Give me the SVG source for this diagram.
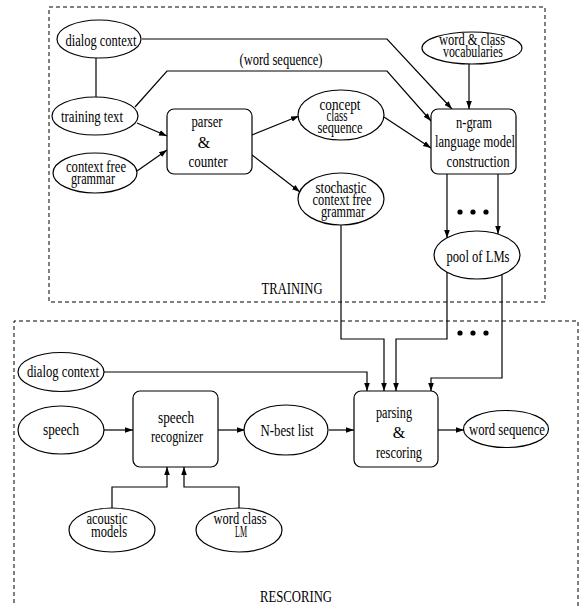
<svg xmlns="http://www.w3.org/2000/svg" width="579" height="606" viewBox="0 0 579 606">
<style>
text{font-family:"Liberation Serif","Times New Roman",serif;font-size:16px;fill:#000;text-anchor:middle}
.sec{font-size:17px}
.n{fill:#fff;stroke:#000;stroke-width:1.2}
.c{fill:none;stroke:#000;stroke-width:1.2}
.frame{fill:none;stroke:#000;stroke-width:1;stroke-dasharray:4,3}
.dot{fill:#000}
</style>
<defs>
<marker id="ah" viewBox="0 0 10 10" refX="10" refY="5" markerWidth="8" markerHeight="8" markerUnits="userSpaceOnUse" orient="auto">
<path d="M0,1.5 L10,5 L0,8.5 Z" fill="#000"/>
</marker>
</defs>
<rect width="579" height="606" fill="#fff"/>
<g id="frames">
<rect class="frame" x="49" y="7" width="496" height="295"/>
<path class="frame" d="M14,610 V321 H578 V610"/>
<text class="sec" x="292" y="294" textLength="61" lengthAdjust="spacingAndGlyphs">TRAINING</text>
<text class="sec" x="296" y="602" textLength="72" lengthAdjust="spacingAndGlyphs">RESCORING</text>
</g>
<g id="connectors">
<path class="c" d="M142,39 H387 L452,109" marker-end="url(#ah)"/>
<path class="c" d="M96,58 V97"/>
<path class="c" d="M135,107 L167,71 H387 L431,121" marker-end="url(#ah)"/>
<text x="281" y="65" textLength="83" lengthAdjust="spacingAndGlyphs">(word sequence)</text>
<path class="c" d="M137,123 L167,136" marker-end="url(#ah)"/>
<path class="c" d="M137,171 L167,150" marker-end="url(#ah)"/>
<path class="c" d="M252,135 L299,116" marker-end="url(#ah)"/>
<path class="c" d="M384,117 L431,148" marker-end="url(#ah)"/>
<path class="c" d="M252,155 L300,192" marker-end="url(#ah)"/>
<path class="c" d="M469,64 V109" marker-end="url(#ah)"/>
<path class="c" d="M447,174 V238" marker-end="url(#ah)"/>
<path class="c" d="M498,174 V234" marker-end="url(#ah)"/>
<circle class="dot" cx="460" cy="212" r="2.6"/>
<circle class="dot" cx="473" cy="212" r="2.6"/>
<circle class="dot" cx="486" cy="212" r="2.6"/>
<path class="c" d="M341,225 V339 H384 V391" marker-end="url(#ah)"/>
<path class="c" d="M447,272 V339 H396 V391" marker-end="url(#ah)"/>
<path class="c" d="M502,274 V378 H431 V391" marker-end="url(#ah)"/>
<circle class="dot" cx="460" cy="333" r="2.6"/>
<circle class="dot" cx="473" cy="333" r="2.6"/>
<circle class="dot" cx="486" cy="333" r="2.6"/>
<path class="c" d="M104,372 H367 V391" marker-end="url(#ah)"/>
<path class="c" d="M104,430 H133" marker-end="url(#ah)"/>
<path class="c" d="M218,430 H245" marker-end="url(#ah)"/>
<path class="c" d="M329,430 H354" marker-end="url(#ah)"/>
<path class="c" d="M438,430 H464" marker-end="url(#ah)"/>
<path class="c" d="M112,508 V487 H167 V467" marker-end="url(#ah)"/>
<path class="c" d="M239,508 V487 H184 V467" marker-end="url(#ah)"/>
</g>
<g id="dialog-context-training">
<ellipse class="n" cx="99" cy="39" rx="42" ry="19"/>
<text x="101" y="46" textLength="71" lengthAdjust="spacingAndGlyphs">dialog context</text>
</g>
<g id="training-text">
<ellipse class="n" cx="95" cy="116" rx="43" ry="19"/>
<text x="92" y="122" textLength="62" lengthAdjust="spacingAndGlyphs">training text</text>
</g>
<g id="context-free-grammar">
<ellipse class="n" cx="95" cy="173" rx="42" ry="20"/>
<text x="96" y="172" textLength="60" lengthAdjust="spacingAndGlyphs">context free</text>
<text x="93" y="184" textLength="44" lengthAdjust="spacingAndGlyphs">grammar</text>
</g>
<g id="parser-counter">
<rect class="n" x="167" y="109" width="85" height="65" rx="7"/>
<text x="207" y="127" textLength="31" lengthAdjust="spacingAndGlyphs">parser</text>
<text x="204" y="148">&amp;</text>
<text x="208" y="167" textLength="39" lengthAdjust="spacingAndGlyphs">counter</text>
</g>
<g id="concept-class-sequence">
<ellipse class="n" cx="341" cy="115" rx="43" ry="25"/>
<text x="340" y="110" textLength="41" lengthAdjust="spacingAndGlyphs">concept</text>
<text x="337" y="121" textLength="21" lengthAdjust="spacingAndGlyphs">class</text>
<text x="340" y="133" textLength="45" lengthAdjust="spacingAndGlyphs">sequence</text>
</g>
<g id="stochastic-cfg">
<ellipse class="n" cx="341" cy="199" rx="43" ry="26"/>
<text x="341" y="193" textLength="51" lengthAdjust="spacingAndGlyphs">stochastic</text>
<text x="342" y="205" textLength="59" lengthAdjust="spacingAndGlyphs">context free</text>
<text x="343" y="217" textLength="44" lengthAdjust="spacingAndGlyphs">grammar</text>
</g>
<g id="word-class-vocabularies">
<ellipse class="n" cx="472" cy="48" rx="50" ry="16"/>
<text x="472" y="45" textLength="66" lengthAdjust="spacingAndGlyphs">word &amp; class</text>
<text x="473" y="57" textLength="60" lengthAdjust="spacingAndGlyphs">vocabularies</text>
</g>
<g id="ngram-lm-construction">
<rect class="n" x="431" y="109" width="85" height="65" rx="7"/>
<text x="474" y="128" textLength="36" lengthAdjust="spacingAndGlyphs">n-gram</text>
<text x="475" y="147" textLength="80" lengthAdjust="spacingAndGlyphs">language model</text>
<text x="478" y="167" textLength="63" lengthAdjust="spacingAndGlyphs">construction</text>
</g>
<g id="pool-of-lms">
<ellipse class="n" cx="477" cy="255" rx="43" ry="24"/>
<text x="478" y="262" textLength="63" lengthAdjust="spacingAndGlyphs">pool of LMs</text>
</g>
<g id="dialog-context-rescoring">
<ellipse class="n" cx="61" cy="372" rx="43" ry="19.5"/>
<text x="63" y="377" textLength="72" lengthAdjust="spacingAndGlyphs">dialog context</text>
</g>
<g id="speech">
<ellipse class="n" cx="61" cy="430" rx="43" ry="24"/>
<text x="61" y="435" textLength="36" lengthAdjust="spacingAndGlyphs">speech</text>
</g>
<g id="speech-recognizer">
<rect class="n" x="133" y="391" width="85" height="76" rx="7"/>
<text x="176" y="423" textLength="36" lengthAdjust="spacingAndGlyphs">speech</text>
<text x="177" y="442" textLength="52" lengthAdjust="spacingAndGlyphs">recognizer</text>
</g>
<g id="n-best-list">
<ellipse class="n" cx="286" cy="430" rx="42" ry="25"/>
<text x="287" y="436" textLength="53" lengthAdjust="spacingAndGlyphs">N-best list</text>
</g>
<g id="parsing-rescoring">
<rect class="n" x="354" y="391" width="84" height="76" rx="7"/>
<text x="394" y="418" textLength="36" lengthAdjust="spacingAndGlyphs">parsing</text>
<text x="399" y="438">&amp;</text>
<text x="399" y="458" textLength="46" lengthAdjust="spacingAndGlyphs">rescoring</text>
</g>
<g id="word-sequence">
<ellipse class="n" cx="506" cy="429" rx="42.5" ry="18.5"/>
<text x="507" y="435" textLength="76" lengthAdjust="spacingAndGlyphs">word sequence</text>
</g>
<g id="acoustic-models">
<ellipse class="n" cx="112" cy="530" rx="43" ry="22"/>
<text x="107" y="524" textLength="41" lengthAdjust="spacingAndGlyphs">acoustic</text>
<text x="109" y="537" textLength="36" lengthAdjust="spacingAndGlyphs">models</text>
</g>
<g id="word-class-lm">
<ellipse class="n" cx="239" cy="530" rx="43" ry="22"/>
<text x="240" y="524" textLength="53" lengthAdjust="spacingAndGlyphs">word class</text>
<text x="241" y="537" textLength="12" lengthAdjust="spacingAndGlyphs">LM</text>
</g>
</svg>
